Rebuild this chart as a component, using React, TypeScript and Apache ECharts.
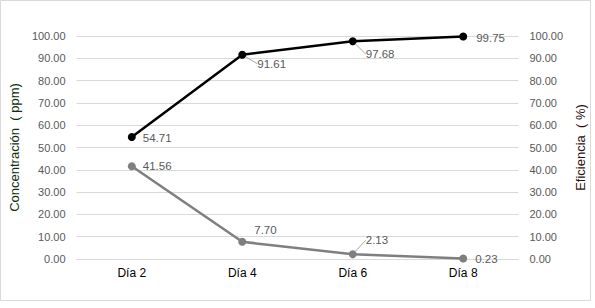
import React, { useEffect, useRef } from "react";
import * as echarts from "echarts";

const categories = ["Día 2", "Día 4", "Día 6", "Día 8"];
const eficiencia = [54.71, 91.61, 97.68, 99.75];
const concentracion = [41.56, 7.7, 2.13, 0.23];
const leftTitle = "Concentración  ( ppm)";
const rightTitle = "Eficiencia  ( %)";

export default function App() {
  const ref = useRef<HTMLDivElement>(null);
  useEffect(() => {
    const chart = echarts.init(ref.current!, null, { renderer: "svg" });
    const labelFont = { color: "#595959", fontSize: 11.5, fontFamily: "Liberation Sans" };
    const effShift = [
      [2, 1, false],
      [6, 9, true],
      [4, 13, true],
      [4, 1, false],
    ];
    const conShift = [
      [2, 0, false],
      [3, -12, false],
      [4, -14, true],
      [3, 1, false],
    ];
    const mk = (vals: number[], cfg: any[]) =>
      vals.map((v, i) => ({
        value: v,
        labelLine: cfg[i][2]
          ? { show: true, lineStyle: { color: "#a6a6a6", width: 1 } }
          : { show: false },
      }));
    const layout = (cfg: any[]) => (p: any) => ({
      dx: cfg[p.dataIndex][0],
      dy: cfg[p.dataIndex][1],
      hideOverlap: false,
    });
    const lbl = {
      show: true,
      position: "right",
      distance: 5,
      formatter: (p: any) => Number(p.value).toFixed(2),
      ...labelFont,
    };
    chart.setOption({
      animation: false,
      backgroundColor: "#ffffff",
      graphic: [
        {
          type: "rect",
          shape: { x: 0.5, y: 0.5, width: 590, height: 300 },
          style: { fill: "none", stroke: "#d9d9d9", lineWidth: 1 },
          silent: true,
        },
      ],
      grid: { left: 58, right: 68, top: 36, bottom: 49 },
      xAxis: {
        type: "category",
        data: categories,
        boundaryGap: true,
        axisLine: { show: true, lineStyle: { color: "#d9d9d9" } },
        axisTick: { show: false },
        axisLabel: { color: "#000000", fontSize: 12, fontFamily: "Liberation Sans", margin: 8 },
      },
      yAxis: [
        {
          type: "value",
          min: 0,
          max: 100,
          interval: 10,
          position: "left",
          name: leftTitle,
          nameLocation: "middle",
          nameGap: 48,
          nameTextStyle: { color: "#0f2f0f", fontSize: 13, fontFamily: "Liberation Sans" },
          axisLine: { show: false },
          axisTick: { show: false },
          splitLine: { lineStyle: { color: "#d9d9d9" } },
          axisLabel: { color: "#595959", fontSize: 11, fontFamily: "Liberation Sans", margin: 11, formatter: (v: number) => v.toFixed(2) },
        },
        {
          type: "value",
          min: 0,
          max: 100,
          interval: 10,
          position: "right",
          name: rightTitle,
          nameLocation: "middle",
          nameGap: 48,
          nameTextStyle: { color: "#2a1010", fontSize: 13, fontFamily: "Liberation Sans", padding: [0, 0, 0, 0] },
          axisLine: { show: false },
          axisTick: { show: false },
          splitLine: { show: false },
          axisLabel: { color: "#595959", fontSize: 11, fontFamily: "Liberation Sans", margin: 11, formatter: (v: number) => v.toFixed(2) },
        },
      ],
      series: [
        {
          name: "Concentración",
          type: "line",
          yAxisIndex: 0,
          data: mk(concentracion, conShift),
          symbol: "circle",
          symbolSize: 8,
          lineStyle: { color: "#7f7f7f", width: 2.5 },
          itemStyle: { color: "#7f7f7f" },
          label: lbl,
          labelLayout: layout(conShift),
        },
        {
          name: "Eficiencia",
          type: "line",
          yAxisIndex: 1,
          data: mk(eficiencia, effShift),
          symbol: "circle",
          symbolSize: 8,
          lineStyle: { color: "#000000", width: 2.5 },
          itemStyle: { color: "#000000" },
          label: lbl,
          labelLayout: layout(effShift),
        },
      ],
    });
    return () => chart.dispose();
  }, []);
  return (
    <div
      ref={ref}
      style={{ position: "fixed", left: 0, top: 0, width: 595, height: 308 }}
    />
  );
}
